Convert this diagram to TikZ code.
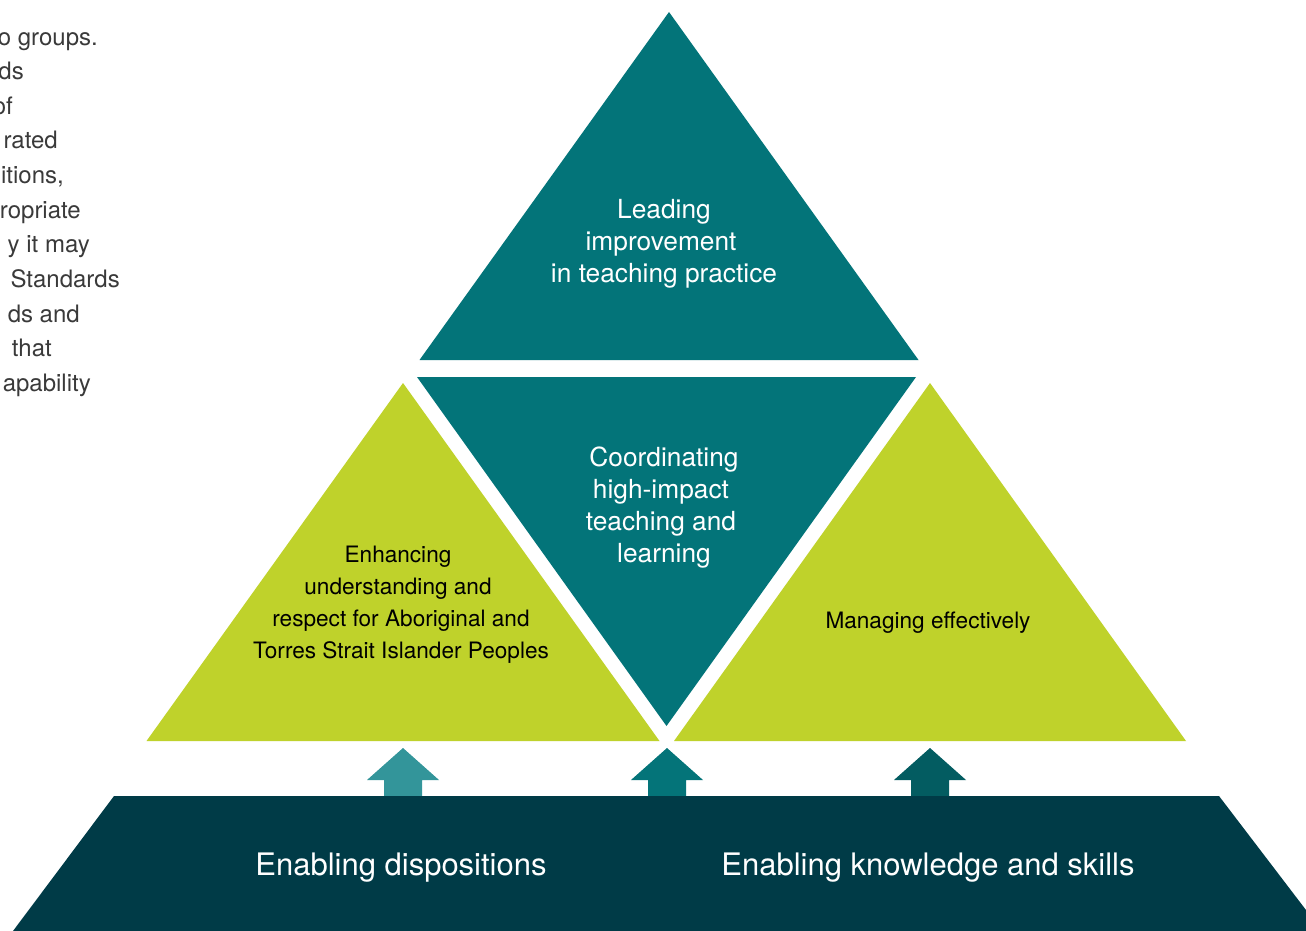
\documentclass[tikz,border=0pt]{standalone}
\usepackage{fontspec}
\setmainfont{TeX Gyre Heros}
\definecolor{teal1}{HTML}{037479}
\definecolor{lime1}{HTML}{BFD22B}
\definecolor{navy1}{HTML}{003B47}
\definecolor{arrowA}{HTML}{33959A}
\definecolor{arrowB}{HTML}{047479}
\definecolor{arrowC}{HTML}{035C61}
\definecolor{grey1}{HTML}{3A3A3A}
\tikzset{
  tealtxt/.style={text=white,anchor=base,inner sep=0pt,font=\fontsize{26.3}{32}\selectfont},
  limetxt/.style={text=black,anchor=base,inner sep=0pt,font=\fontsize{22.6}{32}\selectfont},
  basetxt/.style={text=white,anchor=base,inner sep=0pt,font=\fontsize{31}{36}\selectfont},
  sidetxt/.style={text=grey1,anchor=base east,inner sep=0pt,font=\fontsize{24}{34}\selectfont},
}
\begin{document}
\begin{tikzpicture}[x=1pt,y=-1pt]
\useasboundingbox (0,0) rectangle (1306,931);
\clip (0,0) rectangle (1306,931);
\fill[white] (0,0) rectangle (1306,931);
% side text (clipped at the left edge, as in the source)
\node[sidetxt] (s1) at (98,45.5) {o groups.};
\node[sidetxt] (s2) at (24,79.5) {ds};
\node[sidetxt] (s3) at (13,114.5) {of};
\node[sidetxt] (s4) at (58,148.5) {rated};
\node[sidetxt] (s5) at (64,183.5) {itions,};
\node[sidetxt] (s6) at (81,218.5) {ropriate};
\node[sidetxt] (s7) at (90,252.5) {y it may};
\node[sidetxt] (s8) at (120,287.5) {Standards};
\node[sidetxt] (s9) at (80,322.5) {ds and};
\node[sidetxt] (s10) at (52,356.5) {that};
\node[sidetxt] (s11) at (91,391.5) {apability};
% triangles
\fill[teal1] (669,12) -- (918.5,360) -- (419.5,360) -- cycle;
\fill[teal1] (417,377) -- (916,377) -- (666.5,726) -- cycle;
\fill[lime1] (403,383) -- (659.5,741) -- (146.5,741) -- cycle;
\fill[lime1] (930,383) -- (1186,741) -- (674,741) -- cycle;
% arrows
\fill[arrowA] (403,748) -- (439,780) -- (422,780) -- (422,797) -- (384,797) -- (384,780) -- (367,780) -- cycle;
\fill[arrowB] (667,748) -- (703,780) -- (686,780) -- (686,797) -- (648,797) -- (648,780) -- (631,780) -- cycle;
\fill[arrowC] (930,748) -- (966,780) -- (949,780) -- (949,797) -- (911,797) -- (911,780) -- (894,780) -- cycle;
% base band
\fill[navy1] (114,796) -- (1219,796) -- (1322,931) -- (13,931) -- cycle;
% texts
\node[tealtxt] (t1) at (664,218) {Leading};
\node[tealtxt] (t2) at (661,250) {improvement};
\node[tealtxt] (t3) at (664,282) {in teaching practice};
\node[tealtxt] (m1) at (664,466) {Coordinating};
\node[tealtxt] (m2) at (661,498) {high-impact};
\node[tealtxt] (m3) at (661,530) {teaching and};
\node[tealtxt] (m4) at (664,562) {learning};
\node[limetxt] (l1) at (398,562) {Enhancing};
\node[limetxt] (l2) at (398,594) {understanding and};
\node[limetxt] (l3) at (401,626) {respect for Aboriginal and};
\node[limetxt] (l4) at (401,658) {Torres Strait Islander Peoples};
\node[limetxt] (r1) at (928,628) {Managing effectively};
\node[basetxt] (b1) at (401,875) {Enabling dispositions};
\node[basetxt] (b2) at (928,875) {Enabling knowledge and skills};
\end{tikzpicture}
\end{document}
